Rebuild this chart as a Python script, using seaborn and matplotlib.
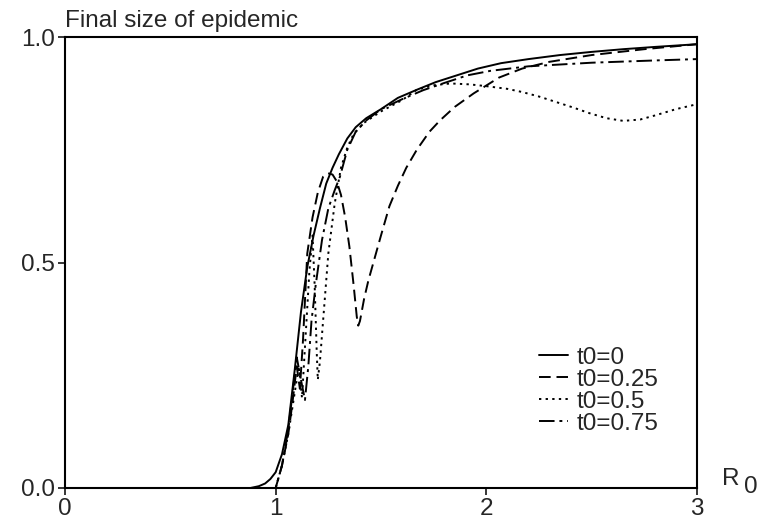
import numpy as np
import seaborn as sns
from matplotlib import pyplot as plt

# R0 values and final size, one pair of lists per curve
r0_t00 = [0.0, 0.88, 0.92, 0.95, 0.975, 1.00, 1.03, 1.06, 1.09, 1.12, 1.15, 1.18, 1.21, 1.24, 1.27, 1.30,
          1.34, 1.38, 1.43, 1.50, 1.58, 1.67, 1.76, 1.86, 1.96, 2.07, 2.20, 2.35, 2.50, 2.65, 2.80, 3.00]
size_t00 = [0.0, 0.0, 0.004, 0.01, 0.02, 0.035, 0.075, 0.14, 0.26, 0.39, 0.49, 0.56, 0.62, 0.675, 0.71, 0.74,
            0.775, 0.80, 0.82, 0.84, 0.865, 0.883, 0.90, 0.915, 0.93, 0.942, 0.951, 0.96, 0.967, 0.973, 0.978, 0.984]

r0_t025 = [0.0, 1.00, 1.03, 1.06, 1.08, 1.10, 1.115, 1.13, 1.15, 1.175, 1.20, 1.225, 1.248, 1.27, 1.29, 1.31,
           1.33, 1.35, 1.37, 1.385, 1.392, 1.40, 1.42, 1.44, 1.47, 1.50, 1.54, 1.58, 1.62, 1.67, 1.73, 1.78,
           1.85, 1.94, 2.06, 2.17, 2.30, 2.50, 2.75, 3.00]
size_t025 = [0.0, 0.0, 0.05, 0.12, 0.19, 0.27, 0.22, 0.33, 0.52, 0.60, 0.655, 0.69, 0.698, 0.695, 0.68, 0.65,
             0.60, 0.535, 0.45, 0.38, 0.36, 0.37, 0.42, 0.46, 0.51, 0.56, 0.625, 0.67, 0.71, 0.75, 0.79, 0.815,
             0.845, 0.875, 0.91, 0.93, 0.945, 0.96, 0.973, 0.984]

r0_t05 = [0.0, 1.00, 1.03, 1.06, 1.09, 1.11, 1.125, 1.14, 1.16, 1.175, 1.185, 1.195, 1.20, 1.21, 1.225, 1.25,
          1.28, 1.31, 1.34, 1.37, 1.42, 1.50, 1.60, 1.67, 1.75, 1.83, 1.92, 2.00, 2.10, 2.17, 2.25, 2.33,
          2.41, 2.49, 2.57, 2.65, 2.73, 2.80, 2.90, 3.00]
size_t05 = [0.0, 0.0, 0.05, 0.12, 0.21, 0.27, 0.20, 0.32, 0.48, 0.56, 0.45, 0.30, 0.24, 0.28, 0.37, 0.52,
            0.63, 0.71, 0.755, 0.785, 0.81, 0.835, 0.86, 0.883, 0.893, 0.897, 0.895, 0.891, 0.885, 0.878, 0.868, 0.856,
            0.844, 0.831, 0.82, 0.814, 0.817, 0.826, 0.84, 0.851]

r0_t075 = [0.0, 1.00, 1.03, 1.06, 1.08, 1.10, 1.12, 1.139, 1.155, 1.17, 1.19, 1.22, 1.25, 1.28, 1.305, 1.34,
           1.38, 1.43, 1.50, 1.60, 1.70, 1.80, 1.91, 2.02, 2.20, 2.50, 2.80, 3.00]
size_t075 = [0.0, 0.0, 0.05, 0.13, 0.21, 0.29, 0.24, 0.195, 0.27, 0.37, 0.45, 0.55, 0.62, 0.66, 0.69, 0.75,
             0.79, 0.815, 0.84, 0.862, 0.882, 0.898, 0.915, 0.925, 0.935, 0.943, 0.948, 0.951]

labels = ["t0=0", "t0=0.25", "t0=0.5", "t0=0.75"]

sns.set_style("white")
plt.rcParams['font.family'] = ['Liberation Sans', 'DejaVu Sans']
plt.rcParams['font.size'] = 17.5

fig = plt.figure(figsize=(7.66, 5.23), dpi=100)
ax = fig.add_axes([65 / 766, 35 / 523, 632 / 766, 451 / 523])

styles = ['-', (0, (6, 3)), (0, (1.2, 2.2)), (0, (8, 2.5, 1.5, 2.5))]
series = [(r0_t00, size_t00), (r0_t025, size_t025), (r0_t05, size_t05), (r0_t075, size_t075)]
for (xs, ys), lab, ls in zip(series, labels, styles):
    sns.lineplot(x=xs, y=ys, ax=ax, color='black', linewidth=1.4, linestyle=ls,
                 label=lab, errorbar=None, sort=False)

ax.set_xlim(0, 3)
ax.set_ylim(0, 1)
ax.set_xticks([0, 1, 2, 3])
ax.set_yticks([0, 0.5, 1.0])
ax.set_yticklabels(["0.0", "0.5", "1.0"])
ax.tick_params(direction='out', length=5, width=1.3, pad=2, bottom=True, left=True)
for sp in ax.spines.values():
    sp.set_visible(True)
    sp.set_linewidth(1.5)
    sp.set_color('black')

ax.text(0, 1.012, "Final size of epidemic", transform=ax.transAxes, ha='left', va='bottom')
ax.text(1.04, 0.021, "R", transform=ax.transAxes, ha='left', va='center')
ax.text(1.075, 0.003, "0", transform=ax.transAxes, ha='left', va='center')

ax.legend(loc='upper left', bbox_to_anchor=(0.75, 0.313), frameon=False, handlelength=1.2,
          handletextpad=0.35, labelspacing=0.0, borderpad=0, borderaxespad=0)

plt.savefig("out.png", dpi=100)
